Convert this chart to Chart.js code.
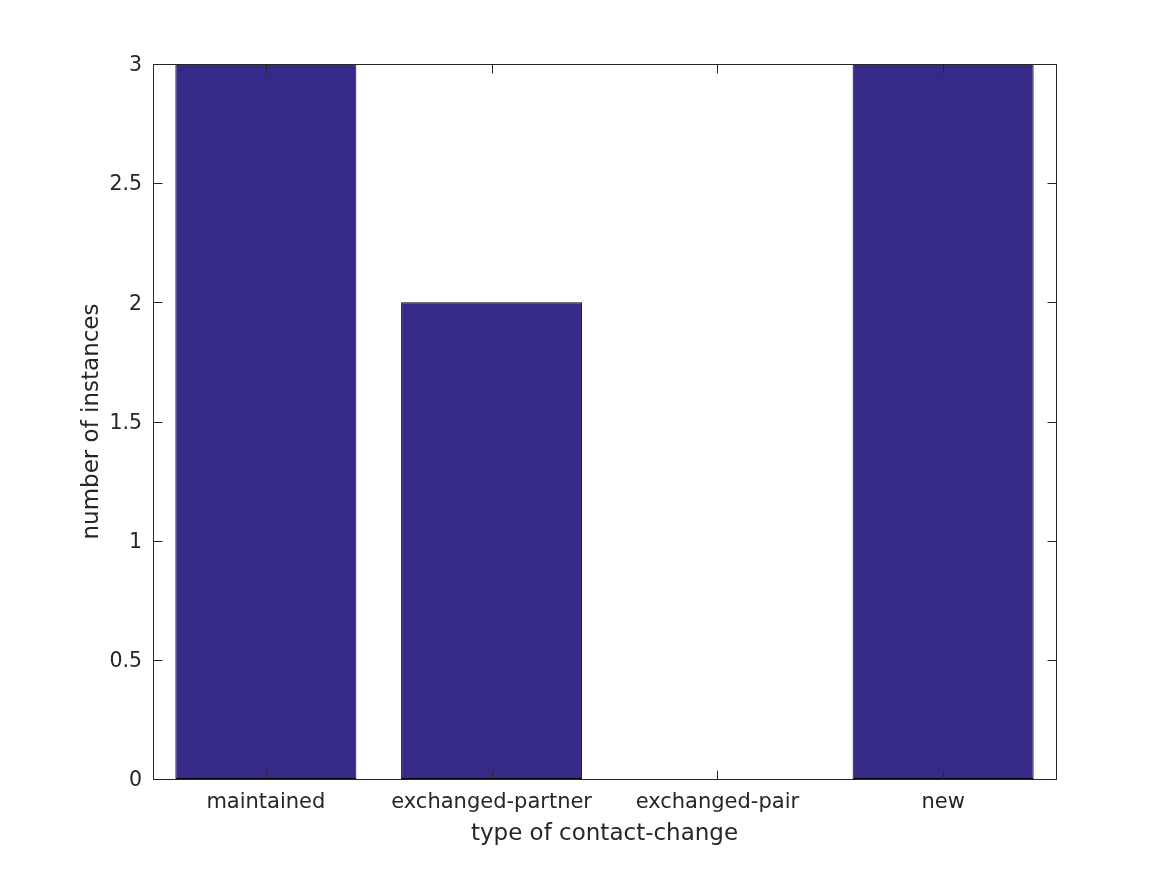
<!DOCTYPE html>
<html>
<head>
<meta charset="utf-8">
<script src="https://cdn.jsdelivr.net/npm/chart.js@4/dist/chart.umd.min.js"></script>
<style>
  html, body { margin: 0; padding: 0; background: #ffffff; }
  #wrap { width: 1167px; height: 875px; position: relative; }
</style>
</head>
<body>
<div id="wrap"><canvas id="c" width="1167" height="875"></canvas></div>
<script>
const categories = ['maintained', 'exchanged-partner', 'exchanged-pair', 'new'];
const instances = [3, 2, 0, 3];
const yTicks = [0, 0.5, 1, 1.5, 2, 2.5, 3];
const xTitle = 'type of contact-change';
const yTitle = 'number of instances';

const TEXT = '#262626';
const FONT = 'DejaVu Sans';

const framePlugin = {
  id: 'frame',
  afterDatasetsDraw(chart) {
    const ctx = chart.ctx;
    const a = chart.chartArea;
    const xs = chart.scales.x, ys = chart.scales.y;
    const L = 9;
    ctx.save();
    ctx.strokeStyle = TEXT;
    ctx.lineWidth = 1;
    ctx.beginPath();
    const l = Math.round(a.left) + 0.5, r = Math.round(a.right) + 0.5;
    const t = Math.round(a.top) + 0.5, b = Math.round(a.bottom) + 0.5;
    ctx.rect(l, t, r - l, b - t);
    yTicks.forEach(v => {
      const y = Math.round(ys.getPixelForValue(v)) + 0.5;
      ctx.moveTo(l, y); ctx.lineTo(l + L, y);
      ctx.moveTo(r, y); ctx.lineTo(r - L, y);
    });
    categories.forEach((c, i) => {
      const x = Math.round(xs.getPixelForValue(i)) + 0.5;
      ctx.moveTo(x, b); ctx.lineTo(x, b - L);
      ctx.moveTo(x, t); ctx.lineTo(x, t + L);
    });
    ctx.stroke();
    ctx.restore();
  }
};

new Chart(document.getElementById('c'), {
  type: 'bar',
  data: {
    labels: categories,
    datasets: [{
      data: instances,
      backgroundColor: '#352A87',
      borderColor: '#000000',
      borderWidth: 1,
      borderSkipped: false,
      barPercentage: 0.802,
      categoryPercentage: 1.0
    }]
  },
  options: {
    responsive: false,
    animation: false,
    devicePixelRatio: 1,
    layout: { padding: { left: 0, right: 111, top: 64, bottom: 0 } },
    plugins: { legend: { display: false }, tooltip: { enabled: false } },
    scales: {
      x: {
        offset: true,
        grid: { display: false, drawTicks: false },
        border: { display: false },
        ticks: { color: TEXT, font: { family: FONT, size: 21 }, padding: 11, maxRotation: 0, autoSkip: false },
        title: { display: true, text: xTitle, color: TEXT, font: { family: FONT, size: 23 }, padding: { top: 0, bottom: 27 } },
        afterFit(s) { s.height = 96; }
      },
      y: {
        min: 0, max: 3,
        afterBuildTicks(s) { s.ticks = yTicks.map(v => ({ value: v })); },
        grid: { display: false, drawTicks: false },
        border: { display: false },
        ticks: { color: TEXT, font: { family: FONT, size: 20.5 }, padding: 11, labelOffset: 2, callback: v => String(v) },
        title: { display: true, text: yTitle, color: TEXT, font: { family: FONT, size: 23 }, padding: { top: 78, bottom: 0 } },
        afterFit(s) { s.width = 153; }
      }
    }
  },
  plugins: [framePlugin]
});
</script>
</body>
</html>
